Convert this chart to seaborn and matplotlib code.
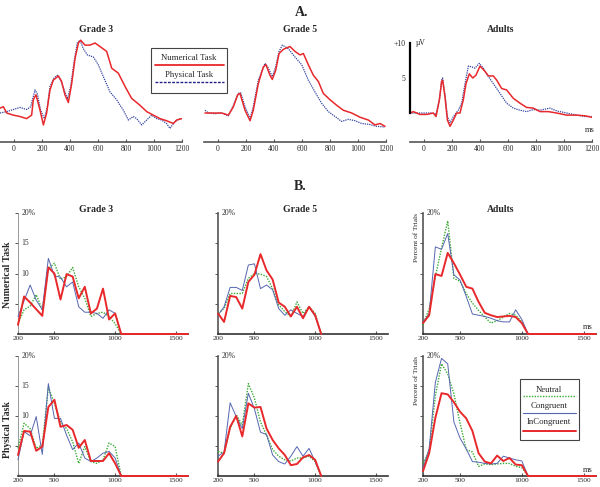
import matplotlib
matplotlib.use("Agg")
import matplotlib.pyplot as plt
import seaborn as sns
import pandas as pd
from matplotlib.patches import Rectangle

# ---------------- data: panel A (ERP waveforms, microvolts) ----------------
g3_num_t = [-100, -76, -52, -5, 43, 90, 126, 138, 157, 186, 210, 233, 257, 281, 317, 340, 364, 388, 412,
            436, 460, 476, 507, 543, 579, 614, 662, 698, 745, 793, 840, 900, 948, 995, 1043, 1090, 1138, 1162, 1198]
g3_num_v = [0.7, 0.9, 0.0, -0.3, -0.5, -0.8, -0.3, 1.9, 2.6, 0.4, -1.7, 0.0, 3.3, 4.7, 5.3, 4.5, 2.6, 1.5, 4.2,
            7.8, 10.0, 10.4, 9.7, 9.7, 10.0, 9.5, 8.8, 6.4, 5.7, 3.8, 2.1, 1.1, 0.2, -0.3, -0.8, -1.1, -1.5, -1.0, -0.8]
g3_phy_t = [-100, -52, -5, 43, 90, 119, 150, 167, 190, 217, 238, 257, 286, 310, 333, 364, 381, 405, 429, 452,
            471, 495, 524, 567, 602, 638, 686, 733, 781, 817, 852, 876, 912, 948, 983, 1019, 1055, 1090, 1114, 1150, 1186]
g3_phy_v = [0.0, 0.2, 0.5, 0.8, 0.5, 0.9, 3.3, 2.7, 0.4, -0.8, 0.9, 3.8, 5.0, 5.4, 4.7, 3.0, 2.0, 3.8, 7.3, 10.0,
            10.4, 9.2, 8.3, 8.0, 6.9, 5.2, 3.0, 1.9, 0.4, -1.0, -0.5, -0.8, -1.7, -1.0, -0.3, -0.8, -1.0, -1.5, -2.2, -1.2, -0.8]

g5_num_t = [-93, -21, 26, 74, 110, 140, 157, 193, 229, 252, 288, 324, 343, 371, 388, 412, 436, 467, 514, 550,
            586, 610, 645, 681, 717, 752, 800, 848, 895, 955, 1014, 1074, 1121, 1157, 1193]
g5_num_v = [0.0, 0.0, 0.0, -0.3, 0.9, 2.6, 2.8, 0.4, -1.1, 0.4, 4.2, 6.6, 6.9, 5.4, 4.8, 6.1, 8.5, 9.1, 9.5, 8.8,
            8.3, 8.5, 6.9, 5.4, 4.5, 2.8, 1.9, 1.1, 0.4, 0.0, -0.6, -1.0, -1.7, -1.5, -1.9]
g5_phy_t = [-93, -69, -21, 26, 74, 110, 145, 162, 193, 229, 252, 288, 336, 360, 388, 412, 436, 460, 502, 550,
            598, 645, 693, 740, 788, 836, 883, 931, 979, 1026, 1074, 1133, 1193]
g5_phy_v = [0.4, 0.0, -0.1, 0.0, -0.4, 1.1, 2.8, 2.9, 0.9, -0.8, 0.9, 4.7, 7.1, 6.4, 5.2, 6.6, 8.8, 9.7, 9.2, 8.0,
            6.9, 4.7, 3.0, 1.4, 0.2, -0.5, -1.2, -0.9, -1.1, -1.5, -1.6, -1.9, -2.0]

ad_num_t = [-100, -76, -29, 19, 67, 86, 110, 126, 133, 150, 167, 186, 210, 233, 257, 281, 300, 324, 348, 371,
            400, 429, 460, 495, 519, 555, 590, 638, 686, 733, 781, 829, 888, 948, 1019, 1090, 1150, 1198]
ad_num_v = [0.0, 0.2, -0.2, -0.2, 0.0, -0.5, 1.9, 4.5, 4.7, 2.3, -1.0, -1.9, -1.0, 0.0, 0.0, 1.9, 4.2, 5.6, 5.0, 5.4,
            6.7, 6.1, 5.3, 5.3, 4.7, 3.5, 3.3, 2.1, 1.4, 0.8, 0.7, 0.2, 0.2, 0.0, -0.3, -0.3, -0.4, -0.6]
ad_phy_t = [-100, -52, 0, 55, 86, 110, 126, 133, 150, 167, 186, 210, 245, 269, 293, 317, 340, 364, 395, 424,
            460, 495, 543, 590, 638, 686, 733, 781, 829, 900, 948, 1019, 1090, 1150, 1198]
ad_phy_v = [0.0, 0.0, 0.0, 0.0, -0.2, 1.9, 4.7, 5.0, 2.6, -0.5, -1.4, -0.5, 0.4, 1.4, 4.2, 6.7, 6.6, 6.4, 7.1, 6.4,
            5.2, 4.2, 2.8, 1.4, 0.7, 0.4, 0.2, 0.5, 0.4, 0.7, 0.3, 0.0, -0.3, -0.5, -0.5]

# ---------------- data: panel B (RT distributions, percent of trials) ----------------
bins = [200, 250, 300, 350, 400, 450, 500, 550, 600, 650, 700, 750, 800, 850, 900, 950, 1000, 1050]
groups = ["Grade 3", "Grade 5", "Adults"]
tasks = ["Numerical Task", "Physical Task"]
conditions = ["Neutral", "Congruent", "InCongruent"]

num_g3_neu = [1.7, 4.0, 4.6, 6.5, 4.0, 10.8, 11.7, 9.0, 9.5, 11.0, 7.8, 5.9, 2.9, 3.4, 3.6, 2.9, 1.7, 0]
num_g3_con = [2.9, 5.5, 8.1, 5.6, 4.0, 12.5, 9.6, 9.4, 7.8, 8.6, 4.5, 3.6, 3.6, 3.4, 2.6, 4.0, 3.4, 0]
num_g3_inc = [1.5, 6.2, 5.2, 4.1, 3.0, 11.0, 10.0, 5.7, 9.9, 9.5, 5.9, 7.8, 3.4, 4.2, 7.5, 2.4, 3.4, 0]

num_g5_neu = [3.4, 4.2, 6.7, 6.7, 6.7, 9.2, 10.0, 9.9, 9.5, 7.5, 4.8, 3.7, 2.9, 5.3, 3.4, 4.5, 3.4, 0]
num_g5_con = [3.1, 4.5, 7.7, 7.7, 7.2, 11.4, 11.6, 7.5, 8.1, 7.3, 4.2, 3.1, 4.0, 3.4, 2.9, 4.5, 2.9, 0]
num_g5_inc = [3.4, 2.0, 6.3, 6.1, 4.2, 8.6, 9.8, 13.2, 10.5, 9.0, 5.2, 4.5, 2.9, 4.5, 2.6, 4.5, 3.1, 0]

num_ad_neu = [1.5, 4.2, 9.5, 14.2, 18.7, 9.2, 8.7, 6.7, 5.1, 3.9, 2.8, 1.8, 2.2, 2.8, 3.4, 3.1, 2.0, 0]
num_ad_con = [1.9, 3.4, 14.4, 14.0, 16.6, 9.8, 8.9, 6.2, 3.3, 3.1, 2.9, 2.6, 2.2, 2.0, 2.0, 4.0, 2.4, 0]
num_ad_inc = [1.8, 3.1, 9.9, 9.6, 13.4, 11.7, 9.8, 7.8, 7.5, 5.3, 3.5, 3.1, 2.8, 2.9, 3.0, 2.8, 1.8, 0]

phy_g3_neu = [4.6, 8.8, 7.9, 4.6, 5.2, 14.8, 12.1, 9.0, 7.9, 5.7, 2.1, 4.9, 2.4, 2.1, 2.7, 5.5, 4.9, 0]
phy_g3_con = [2.7, 7.4, 6.7, 9.9, 3.6, 15.4, 9.6, 9.6, 6.8, 4.4, 5.5, 3.0, 2.4, 3.0, 3.8, 4.1, 3.0, 0]
phy_g3_inc = [3.5, 7.5, 7.4, 4.2, 4.9, 11.5, 12.7, 8.2, 8.5, 7.7, 4.7, 6.0, 2.5, 2.5, 2.5, 3.8, 2.1, 0]

phy_g5_neu = [4.1, 3.8, 7.9, 10.2, 8.5, 15.4, 13.0, 9.0, 6.8, 4.4, 3.3, 2.7, 2.5, 3.0, 3.0, 3.3, 2.4, 0]
phy_g5_con = [3.3, 4.0, 12.2, 9.9, 7.9, 13.8, 11.2, 7.3, 6.9, 3.5, 2.4, 2.0, 3.3, 4.9, 3.3, 4.6, 2.4, 0]
phy_g5_inc = [2.4, 3.8, 8.2, 10.0, 6.6, 12.1, 11.4, 11.5, 7.9, 6.0, 4.6, 3.5, 1.8, 2.0, 3.1, 3.5, 2.7, 0]

phy_ad_neu = [2.1, 4.1, 13.4, 18.7, 17.0, 13.7, 8.8, 4.4, 4.0, 1.6, 2.0, 1.9, 2.0, 2.1, 2.1, 1.6, 1.4, 0]
phy_ad_con = [1.3, 4.6, 15.6, 19.6, 18.7, 9.0, 6.3, 4.5, 2.4, 2.3, 2.1, 2.0, 2.1, 3.3, 3.0, 2.7, 2.5, 0]
phy_ad_inc = [0.8, 3.8, 9.7, 13.8, 13.6, 12.3, 10.7, 9.6, 7.5, 3.8, 2.4, 2.1, 3.4, 2.5, 3.0, 1.9, 1.8, 0]

# panels where the incongruent curve keeps running at 0 up to 1600 ms
inc_tail = {("Numerical Task", "Grade 3"), ("Numerical Task", "Adults"),
            ("Physical Task", "Grade 3"), ("Physical Task", "Adults")}

# ---------------- build tables ----------------
erp_series = {
    "Grade 3": [(g3_num_t, g3_num_v, "Numerical Task"), (g3_phy_t, g3_phy_v, "Physical Task")],
    "Grade 5": [(g5_num_t, g5_num_v, "Numerical Task"), (g5_phy_t, g5_phy_v, "Physical Task")],
    "Adults": [(ad_num_t, ad_num_v, "Numerical Task"), (ad_phy_t, ad_phy_v, "Physical Task")],
}
erp_rows = []
for grp, series in erp_series.items():
    for t, v, task in series:
        for ti, vi in zip(t, v):
            erp_rows.append({"group": grp, "task": task, "time": ti, "uv": vi})
erp = pd.DataFrame(erp_rows)

rt_values = {
    ("Numerical Task", "Grade 3"): [num_g3_neu, num_g3_con, num_g3_inc],
    ("Numerical Task", "Grade 5"): [num_g5_neu, num_g5_con, num_g5_inc],
    ("Numerical Task", "Adults"): [num_ad_neu, num_ad_con, num_ad_inc],
    ("Physical Task", "Grade 3"): [phy_g3_neu, phy_g3_con, phy_g3_inc],
    ("Physical Task", "Grade 5"): [phy_g5_neu, phy_g5_con, phy_g5_inc],
    ("Physical Task", "Adults"): [phy_ad_neu, phy_ad_con, phy_ad_inc],
}
rt_rows = []
for (task, grp), vals in rt_values.items():
    for cond, v in zip(conditions, vals):
        times = list(bins)
        v = list(v)
        if cond == "InCongruent" and (task, grp) in inc_tail:
            times.append(1600)
            v.append(0)
        for ti, vi in zip(times, v):
            rt_rows.append({"task": task, "group": grp, "cond": cond, "time": ti, "pct": vi})
rt = pd.DataFrame(rt_rows)

# ---------------- style ----------------
sns.set_theme(style="white")
plt.rcParams["font.family"] = ["Liberation Serif", "DejaVu Serif"]

RED = "#e8282b"
BLUE_A = "#3444a0"
BLUE_B = "#5566b0"
GREEN = "#3aaa35"
W, H = 600, 487


def rect(l, t, r, b):
    return [l / W, 1 - b / H, (r - l) / W, (b - t) / H]


fig = plt.figure(figsize=(6, 4.87), dpi=100)

# ---------------- panel A ----------------
a_left = {"Grade 3": 0, "Grade 5": 204, "Adults": 410}
for grp in groups:
    ax = fig.add_axes(rect(a_left[grp], 30, a_left[grp] + 182, 142))
    sub = erp[erp.group == grp]
    sns.lineplot(data=sub[sub.task == "Physical Task"], x="time", y="uv", ax=ax, color=BLUE_A,
                 lw=0.9, linestyle=(0, (1, 0.8)), estimator=None, sort=False)
    sns.lineplot(data=sub[sub.task == "Numerical Task"], x="time", y="uv", ax=ax, color=RED,
                 lw=1.1, estimator=None, sort=False)
    ax.set_xlim(-100, 1200)
    ax.set_ylim(-4.14, 11.86)
    ax.set_xlabel("")
    ax.set_ylabel("")
    ax.set_facecolor("none")
    for s in ["top", "right", "left"]:
        ax.spines[s].set_visible(False)
    ax.spines["bottom"].set_color("#555555")
    ax.spines["bottom"].set_linewidth(1.2)
    ax.set_xticks(range(0, 1201, 200))
    ax.tick_params(axis="x", direction="in", length=2, width=0.8, color="#555555",
                   labelsize=5.5, pad=2, bottom=True)
    if grp == "Adults":
        ax.spines["left"].set_visible(True)
        ax.spines["left"].set_bounds(0, 10)
        ax.spines["left"].set_color("black")
        ax.spines["left"].set_linewidth(1.6)
        ax.set_yticks([5, 10])
        ax.set_yticklabels(["5", "+10"])
        ax.tick_params(axis="y", length=0, labelsize=5.5, pad=3.5, left=True)
    else:
        ax.set_yticks([])

# ---------------- panel B ----------------
b_cols = {"Grade 3": (18, 188), "Grade 5": (218, 388), "Adults": (423, 596)}
b_rows = {"Numerical Task": (213, 334), "Physical Task": (356, 476)}
styles = {
    "Neutral": dict(color=GREEN, lw=1.0, linestyle=(0, (1, 1))),
    "Congruent": dict(color=BLUE_B, lw=0.7, linestyle="-"),
    "InCongruent": dict(color=RED, lw=1.4, linestyle="-"),
}
for task in tasks:
    top, bot = b_rows[task]
    for grp in groups:
        l, r = b_cols[grp]
        ax = fig.add_axes(rect(l, top, r, bot))
        sub = rt[(rt.task == task) & (rt.group == grp)]
        for cond in conditions:
            sns.lineplot(data=sub[sub.cond == cond], x="time", y="pct", ax=ax,
                         estimator=None, sort=False, clip_on=False, zorder=3, **styles[cond])
        ax.set_xlim(200, 1600)
        ax.set_ylim(0, 20)
        ax.set_xlabel("")
        ax.set_ylabel("")
        ax.set_facecolor("none")
        ax.spines["top"].set_visible(False)
        ax.spines["right"].set_visible(False)
        ax.spines["bottom"].set_color("#333333")
        ax.spines["bottom"].set_linewidth(1.2)
        if grp == "Grade 3":
            ax.spines["left"].set_color("#888888")
            ax.spines["left"].set_linewidth(0.6)
        else:
            ax.spines["left"].set_color("#555555")
            ax.spines["left"].set_linewidth(1.2)
        ax.set_xticks([200, 500, 1000, 1500])
        ax.tick_params(axis="x", direction="in", length=2, width=0.8, color="#555555",
                       labelsize=5.3, pad=1.5, bottom=True)
        ax.set_yticks([5, 10, 15, 20])
        ax.set_yticklabels([])
        ax.tick_params(axis="y", direction="out", length=2, width=0.7, color="#555555", left=True)
        ytr = ax.get_yaxis_transform()
        ax.text(0.02, 20, "20%", transform=ytr, fontsize=5.5, va="center", ha="left", color="#333333")
        if grp == "Grade 3":
            for yv in [15, 10]:
                ax.text(0.02, yv, str(yv), transform=ytr, fontsize=5.5, va="center", ha="left", color="#333333")

# ---------------- annotations and legends (pixel overlay) ----------------
ov = fig.add_axes([0, 0, 1, 1], zorder=10)
ov.set_xlim(0, W)
ov.set_ylim(H, 0)
ov.axis("off")
ov.patch.set_alpha(0)

ov.text(302, 13, "A.", fontsize=10, fontweight="bold", ha="center", va="center")
ov.text(300, 186, "B.", fontsize=10, fontweight="bold", ha="center", va="center")
for x, grp in zip([96, 300, 501], groups):
    ov.text(x, 29, grp, fontsize=7, fontweight="bold", ha="center", va="center")
    ov.text(x, 209, grp, fontsize=7, fontweight="bold", ha="center", va="center")

ov.text(416, 43, "\u00b5V", fontsize=5.5, ha="left", va="center")
ov.text(590, 130, "ms", fontsize=6, ha="center", va="center")
ov.text(588, 327, "ms", fontsize=6, ha="center", va="center")
ov.text(588, 470, "ms", fontsize=6, ha="center", va="center")
ov.text(416, 213, "Percent of Trials", fontsize=5.3, rotation=90, ha="center", va="top")
ov.text(416, 356, "Percent of Trials", fontsize=5.3, rotation=90, ha="center", va="top")
ov.text(8, 275, "Numerical Task", fontsize=7, fontweight="bold", rotation=90, ha="center", va="center")
ov.text(8, 430, "Physical Task", fontsize=7, fontweight="bold", rotation=90, ha="center", va="center")

# legend A
ov.add_patch(Rectangle((151, 48), 76, 45, facecolor="white", edgecolor="#444444", lw=0.8))
ov.text(189, 57.5, "Numerical Task", fontsize=6.3, ha="center", va="center")
ov.plot([155, 224], [64.5, 64.5], color=RED, lw=1.3)
ov.text(189, 75, "Physical Task", fontsize=6.3, ha="center", va="center")
ov.plot([155, 224], [82, 82], color="#22228a", lw=1.0, linestyle=(0, (2, 1)))

# legend B
ov.add_patch(Rectangle((520, 379), 59, 61, facecolor="white", edgecolor="#444444", lw=0.8))
ov.text(549, 389.5, "Neutral", fontsize=6.3, ha="center", va="center")
ov.plot([523, 576], [396, 396], color=GREEN, lw=1.0, linestyle=(0, (1, 1)))
ov.text(549, 405.5, "Congruent", fontsize=6.3, ha="center", va="center")
ov.plot([523, 576], [413, 413], color=BLUE_B, lw=0.8)
ov.text(549, 422, "InCongruent", fontsize=6.3, ha="center", va="center")
ov.plot([523, 576], [431, 431], color=RED, lw=1.4)

fig.savefig("out.png", dpi=100)
